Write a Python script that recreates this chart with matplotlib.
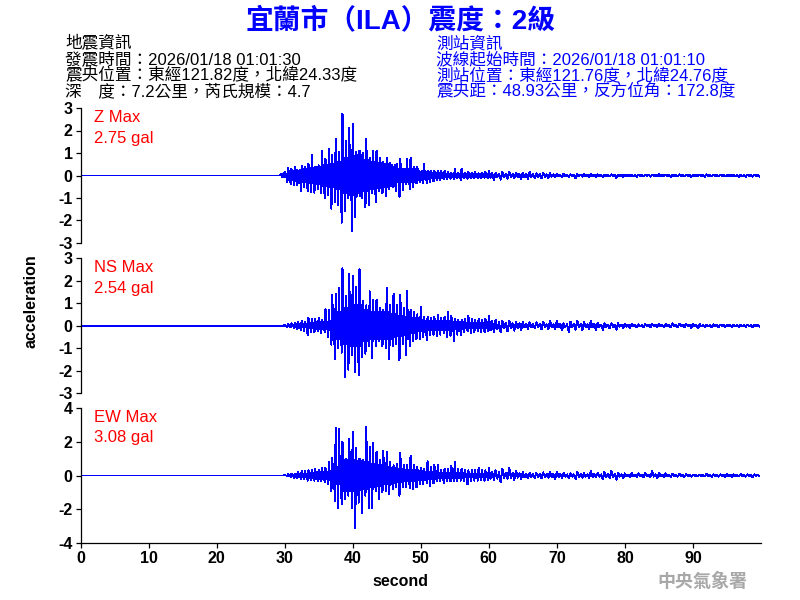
import matplotlib
matplotlib.use("Agg")
import matplotlib.pyplot as plt
import numpy as np

plt.rcParams["font.family"] = ["Liberation Sans", "Noto Sans CJK TC", "DejaVu Sans"]

# peaks read per half second, 29.5 s to 59.5 s
z_up = [.07, .15, .34, .30, .40, .22, .44, .37, .52, .93,
        .40, .45, 1.11, .75, 1.19, .90, 1.63, 1.04, 2.75, 1.55,
        2.1, 2.3, 1.04, 1.1, 1.0, 1.63, .8, 1.1, 1.1, .8,
        .6, .8, .55, .4, .52, .74, .3, .74, .8, .37,
        .4, .15, .52, .22, .2, .22, .2, .2, .2, .15,
        .12, .27, .12, .3, .1, .18, .1, .15, .1, .1,
        .15]
z_low = [-.07, -.27, -.37, -.41, -.44, -.67, -.52, -.71, -.74, -.77,
         -.6, -.8, -1.0, -.85, -1.48, -1.2, -1.33, -2.1, -1.6, -1.0,
         -2.49, -1.85, -.8, -1.0, -1.4, -1.3, -.8, -1.2, -.7, -.8,
         -.9, -.6, -.5, -.7, -.95, -.65, -.4, -.6, -.5, -.35,
         -.3, -.35, -.35, -.3, -.25, -.2, -.2, -.15, -.15, -.15,
         -.15, -.12, -.2, -.12, -.15, -.1, -.12, -.1, -.1, -.1,
         -.1]
ns_up = [0, .03, .06, .1, .12, .15, .2, .18, .35, .3,
         .3, .35, .25, .72, .7, 1.35, 1.4, 1.67, 2.54, 1.3,
         2.3, 2.2, 1.72, 2.5, 1.1, .9, 1.52, 1.13, 1.15, .8,
         .7, 1.69, .9, 1.42, .9, 1.38, .8, 1.54, .7, .6,
         .5, .83, .4, .4, .35, .4, .49, .35, .4, .6,
         .45, .3, .25, .25, .3, .43, .3, .25, .3, .25,
         .3]
ns_low = [0, -.05, -.08, -.12, -.15, -.2, -.22, -.43, -.3, -.3,
          -.25, -.35, -.3, -.5, -.85, -1.5, -1.0, -1.2, -2.28, -1.95,
          -1.3, -2.05, -2.2, -1.4, -1.25, -.9, -1.44, -.9, -.7, -.9,
          -1.0, -1.5, -.9, -.8, -1.54, -.8, -1.32, -.9, -.7, -.6,
          -.6, -.5, -.65, -.4, -.4, -.45, -.4, -.35, -.5, -.45,
          -.7, -.4, -.4, -.3, -.25, -.35, -.3, -.25, -.3, -.3,
          -.25]
ew_up = [0, .02, .08, .1, .1, .2, .25, .25, .3, .35,
         .4, .35, .45, .45, .8, 1.06, 2.8, 2.76, 1.98, 1.0,
         2.15, 2.57, 1.6, 1.0, .9, 2.86, 1.69, 1.92, 1.39, .9,
         1.47, 1.4, .8, .6, .7, 1.33, .6, .6, 1.16, .6,
         .5, .45, .4, .84, .5, .65, .6, .35, .4, .4,
         .59, .8, .4, .4, .3, .3, .35, .3, .45, .3,
         .3]
ew_low = [0, -.02, -.08, -.12, -.15, -.2, -.2, -.3, -.25, -.3,
          -.35, -.35, -.4, -.5, -.92, -1.5, -1.9, -1.7, -1.4, -1.2,
          -1.9, -3.08, -1.6, -2.2, -1.2, -1.92, -1.92, -.9, -1.37, -1.0,
          -.9, -1.08, -.8, -.7, -1.2, -.7, -.7, -.75, -.8, -.7,
          -.5, -.5, -.45, -.6, -.45, -.35, -.35, -.45, -.3, -.35,
          -.35, -.35, -.3, -.35, -.53, -.3, -.3, -.3, -.25, -.3,
          -.25]

# width of the solid band per second, 29 s to 59 s
z_core = [.05, .2, .25, .3, .35, .4, .45, .5, .6, .8, .85, .9, .7, .6, .55, .5,
          .45, .3, .3, .3, .2, .15, .12, .1, .08, .08, .07, .06, .06, .05, .05]
ns_core = [0, .03, .06, .08, .12, .15, .15, .2, .6, .8, .9, .9, .7, .6, .6, .6,
           .5, .45, .4, .35, .25, .2, .2, .2, .2, .15, .15, .12, .12, .12, .1]
ew_core = [0, .02, .06, .1, .15, .2, .22, .25, .5, .9, .9, .85, .8, .7, .6, .5,
           .45, .4, .35, .3, .25, .2, .2, .18, .18, .15, .15, .12, .12, .1, .1]

# tails read per second, 60 s to 99 s
z_tail_up = [.2, .12, .15, .15, .12, .12, .15, .1, .12, .1,
             .06, .08, .05, .06, .05, .06, .05, .04, .05, .03,
             .04, .03, .04, .03, .04, .05, .04, .03, .05, .03,
             .03, .04, .05, .04, .03, .03, .02, .03, .04, .03]
z_tail_low = [-.2, -.18, -.15, -.12, -.15, -.15, -.12, -.12, -.1, -.08,
              -.08, -.06, -.12, -.05, -.06, -.05, -.07, -.04, -.1, -.05,
              -.04, -.05, -.03, -.05, -.04, -.03, -.05, -.04, -.03, -.05,
              -.03, -.05, -.04, -.03, -.04, -.03, -.05, -.06, -.05, -.04]
z_tail_core = [.1, .08, .08, .07, .07, .07, .06, .06, .05, .05,
               .03, .03, .03, .03, .03, .03, .02, .02, .02, .02,
               .02, .02, .02, .02, .02, .02, .02, .02, .02, .02,
               .02, .02, .02, .02, .02, .02, .02, .02, .02, .02]
ns_tail_up = [.45, .25, .2, .22, .18, .15, .15, .15, .18, .2,
              .2, .1, .18, .2, .15, .22, .12, .1, .1, .1,
              .08, .08, .06, .07, .09, .08, .07, .1, .08, .08,
              .08, .06, .05, .06, .05, .04, .04, .05, .04, .03]
ns_tail_low = [-.3, -.3, -.25, -.22, -.2, -.15, -.12, -.15, -.15, -.15,
               -.2, -.28, -.18, -.2, -.15, -.2, -.18, -.12, -.18, -.1,
               -.1, -.08, -.06, -.08, -.05, -.06, -.08, -.07, -.06, -.12,
               -.1, -.06, -.08, -.06, -.05, -.05, -.06, -.05, -.07, -.03]
ns_tail_core = [.2, .15, .12, .1, .1, .08, .07, .07, .06, .06,
                .08, .06, .06, .08, .06, .08, .05, .05, .05, .04,
                .04, .03, .03, .03, .03, .03, .03, .03, .03, .03,
                .03, .03, .03, .03, .02, .02, .02, .02, .02, .02]
ew_tail_up = [.45, .3, .4, .42, .25, .2, .15, .15, .18, .2,
              .2, .15, .12, .2, .12, .25, .15, .2, .25, .15,
              .12, .15, .12, .15, .25, .15, .12, .1, .1, .08,
              .04, .03, .1, .06, .06, .08, .06, .08, .06, .06]
ew_tail_low = [-.25, -.4, -.2, -.25, -.2, -.15, -.15, -.15, -.12, -.2,
               -.12, -.15, -.2, -.12, -.15, -.1, -.2, -.15, -.25, -.15,
               -.1, -.08, -.1, -.1, -.15, -.1, -.1, -.06, -.08, -.06,
               -.02, -.03, -.08, -.06, -.1, -.08, -.05, -.06, -.08, -.04]
ew_tail_core = [.2, .18, .15, .15, .12, .1, .08, .08, .08, .08,
                .08, .06, .06, .08, .06, .08, .06, .08, .08, .06,
                .05, .05, .05, .05, .06, .05, .04, .04, .03, .03,
                .01, .01, .03, .03, .03, .03, .02, .03, .02, .02]

x_ticks = [0, 10, 20, 30, 40, 50, 60, 70, 80, 90]
z_ticks = [-3, -2, -1, 0, 1, 2, 3]
ew_ticks = [-4, -2, 0, 2, 4]

title = "宜蘭市（ILA）震度：2級"
quake_info = ["地震資訊",
              "發震時間：2026/01/18 01:01:30",
              "震央位置：東經121.82度，北緯24.33度",
              "深　度：7.2公里，芮氏規模：4.7"]
station_info = ["測站資訊",
                "波線起始時間：2026/01/18 01:01:10",
                "測站位置：東經121.76度，北緯24.76度",
                "震央距：48.93公里，反方位角：172.8度"]


def trace(up, low, core, t0, step):
    # up, band, band, low in every step
    t = []
    y = []
    for i in range(len(up)):
        t += [t0 + i * step, t0 + (i + 0.25) * step, t0 + (i + 0.5) * step, t0 + (i + 0.75) * step]
        y += [up[i], -core[i], core[i], low[i]]
    return t, y


def make_panel(top, bottom, up, low, core, tail_up, tail_low, tail_core, onset, ticks, lim, name, peak):
    ax = fig.add_axes([80.5 / 800, 1 - bottom / 600, 680.5 / 800, (bottom - top) / 600])
    t1, y1 = trace(up, low, np.repeat(core, 2), 29.5, 0.5)
    t2, y2 = trace(tail_up, tail_low, tail_core, 60, 1)
    ax.plot([0, onset] + t1 + t2, [0, 0] + y1 + y2, color="#0000ff", lw=0.72, antialiased=False)
    ax.set_xlim(0, 100)
    ax.set_ylim(-lim, lim)
    ax.set_yticks(ticks)
    ax.set_yticklabels([str(v) for v in ticks], fontsize=11.5, fontweight="bold")
    ax.spines["top"].set_visible(False)
    ax.spines["right"].set_visible(False)
    ax.spines["left"].set_linewidth(0.9)
    ax.spines["bottom"].set_linewidth(0.9)
    ax.tick_params(axis="y", length=3.6, width=0.9, pad=2)
    ax.text(94, top + 9.5, name, color="#ff0000", fontsize=12, va="center",
            transform=px)
    ax.text(94, top + 30, peak, color="#ff0000", fontsize=12, va="center",
            transform=px)
    return ax


fig = plt.figure(figsize=(8, 6), dpi=100)
# pixel positions for text, origin at the top left
px = matplotlib.transforms.Affine2D().scale(1 / 800, -1 / 600).translate(0, 1) + fig.transFigure

ax1 = make_panel(108, 243, z_up, z_low, z_core, z_tail_up, z_tail_low, z_tail_core, 29.3, z_ticks, 3, "Z Max", "2.75 gal")
ax2 = make_panel(258, 393.3, ns_up, ns_low, ns_core, ns_tail_up, ns_tail_low, ns_tail_core, 29.5, z_ticks, 3, "NS Max", "2.54 gal")
ax3 = make_panel(407.7, 543.3, ew_up, ew_low, ew_core, ew_tail_up, ew_tail_low, ew_tail_core, 29.5, ew_ticks, 4, "EW Max", "3.08 gal")

for ax in [ax1, ax2]:
    ax.spines["bottom"].set_visible(False)
    ax.set_xticks([])

ax3.set_xticks(x_ticks)
ax3.set_xticklabels([str(v) for v in x_ticks], fontsize=11.5, fontweight="bold")
ax3.tick_params(axis="x", length=3.6, width=0.9, pad=2)

fig.text(401, 21, title, transform=px, color="#0000ff", fontsize=20, fontweight="bold",
         ha="center", va="center")
for i in range(4):
    fig.text(65, 48 + i * 16, quake_info[i], transform=px, color="black", fontsize=12)
    fig.text(436, 48 + i * 16, station_info[i], transform=px, color="#0000ff", fontsize=12)

fig.text(31, 301, "acceleration", transform=px, fontsize=11.5, fontweight="bold",
         rotation=90, ha="center", va="center")
fig.text(400, 581, "second", transform=px, fontsize=11.5, fontweight="bold",
         ha="center", va="center")
fig.text(702, 582, "中央氣象署", transform=px, color="#a8a8a8", fontsize=13, fontweight="bold",
         ha="center", va="center")

fig.savefig("out.png", dpi=100)
